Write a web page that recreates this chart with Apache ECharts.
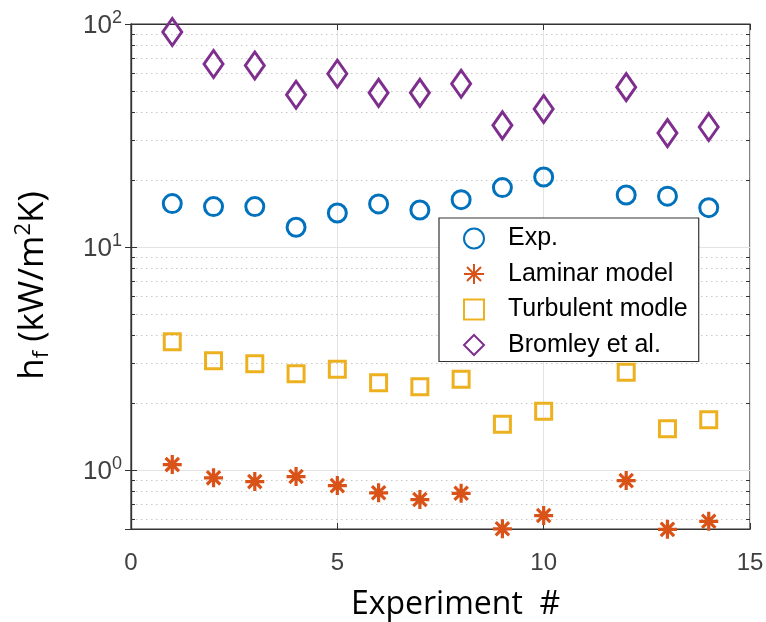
<!DOCTYPE html>
<html>
<head>
<meta charset="utf-8">
<script src="https://cdn.jsdelivr.net/npm/echarts@6/dist/echarts.min.js"></script>
<style>
html,body{margin:0;padding:0;background:#fff;}
#chart{width:766px;height:622px;}
</style>
</head>
<body>
<div id="chart"></div>
<script>
// ---- data ----
const experiments   = [1, 2, 3, 4, 5, 6, 7, 8, 9, 10, 12, 13, 14];
const expVals       = [15.65, 15.17, 15.17, 12.25, 14.2, 15.6, 14.65, 16.3, 18.46, 20.6, 17.1, 16.9, 15.0];
const laminarVals   = [1.056, 0.921, 0.886, 0.933, 0.850, 0.789, 0.736, 0.785, 0.544, 0.624, 0.895, 0.541, 0.588];
const turbulentVals = [3.76, 3.09, 2.99, 2.70, 2.83, 2.46, 2.36, 2.55, 1.60, 1.83, 2.74, 1.53, 1.68];
const bromleyVals   = [92.1, 66.2, 65.2, 48.2, 59.8, 49.1, 49.1, 54.0, 35.1, 41.6, 52.1, 32.4, 34.5];
const seriesNames   = ['Exp.', 'Laminar model', 'Turbulent modle', 'Bromley et al.'];
const xTickValues   = [0, 5, 10, 15];
const yMin = 0.543, yMax = 100;
const minorYValues  = [0.6, 0.7, 0.8, 0.9, 2, 3, 4, 5, 6, 7, 8, 9, 20, 30, 40, 50, 60, 70, 80, 90];

const pairs = vals => experiments.map((x, i) => [x, vals[i]]);

const xMin = xTickValues[0], xMax = xTickValues[xTickValues.length - 1];
const tickLen = (xMax - xMin) * 4 / 619;

const minorLines = [];
minorYValues.forEach(v => {
  minorLines.push([{coord: [xMin, v], lineStyle: {color: '#c8c8c8', type: [1.5, 3.5], width: 1}},
                   {coord: [xMax, v]}]);
  minorLines.push([{coord: [xMin, v], lineStyle: {color: '#333', type: 'solid', width: 1}},
                   {coord: [xMin + tickLen, v]}]);
  minorLines.push([{coord: [xMax - tickLen, v], lineStyle: {color: '#333', type: 'solid', width: 1}},
                   {coord: [xMax, v]}]);
});

const logLabel = v => {
  const e = Math.round(Math.log10(v));
  if (Math.abs(Math.log10(v) - e) > 1e-6) return '';
  return '{b|10}{s|' + e + '}';
};

const chart = echarts.init(document.getElementById('chart'), null, {renderer: 'canvas'});
const asterisk = 'path://M10,0L10,20M0,10L20,10M3,3L17,17M3,17L17,3';
const clear = 'rgba(0,0,0,0)';

chart.setOption({
  animation: false,
  backgroundColor: '#fff',
  grid: {left: 131, right: 16, top: 24, bottom: 93, show: true, containLabel: false,
         outerBoundsMode: 'none',
         borderColor: '#333', borderWidth: 1.2, backgroundColor: 'transparent'},
  legend: {
    data: seriesNames,
    orient: 'vertical',
    left: 439, top: 218,
    backgroundColor: '#fff',
    borderColor: '#333', borderWidth: 1.2, borderRadius: 0,
    padding: [8, 11, 4, 24],
    itemWidth: 20, itemHeight: 20,
    itemGap: 10.5,
    textStyle: {fontFamily: 'Liberation Sans', fontSize: 25, color: '#000', padding: [0, 0, 0, 19]}
  },
  xAxis: [{
    type: 'value', min: xMin, max: xMax, interval: 5,
    name: 'Experiment  #', nameLocation: 'middle', nameGap: 60,
    nameTextStyle: {fontFamily: 'Open Sans', fontSize: 32, color: '#000', padding: [0, 0, 0, 30]},
    axisLine: {show: true, lineStyle: {color: '#333', width: 1.2}},
    axisTick: {show: true, inside: true, length: 6, lineStyle: {color: '#333'}},
    axisLabel: {fontFamily: 'Liberation Sans', fontSize: 24, color: '#404040', margin: 22,
                formatter: v => xTickValues.includes(v) ? String(v) : ''},
    splitLine: {show: true, lineStyle: {color: '#e3e3e3', width: 1}}
  }, {
    type: 'value', position: 'top', min: xMin, max: xMax, interval: 5,
    axisLine: {show: true, lineStyle: {color: '#333', width: 1.2}},
    axisTick: {show: true, inside: true, length: 6, lineStyle: {color: '#333'}},
    axisLabel: {show: false}, splitLine: {show: false}
  }],
  yAxis: [{
    type: 'log', logBase: 10, min: yMin, max: yMax,
    name: '{a|h}{sub|f}{a| (kW/m}{sup|2}{a|K)}', nameLocation: 'middle', nameGap: 78, nameRotate: 90,
    nameTextStyle: {
      padding: [0, 18, 0, 0],
      rich: {
        a: {fontFamily: 'Open Sans', fontSize: 35, color: '#000', lineHeight: 40},
        sub: {fontFamily: 'Open Sans', fontSize: 22, color: '#000', verticalAlign: 'bottom', lineHeight: 40},
        sup: {fontFamily: 'Open Sans', fontSize: 22, color: '#000', verticalAlign: 'top', lineHeight: 40}
      }
    },
    axisLine: {show: true, lineStyle: {color: '#333', width: 1.2}},
    axisTick: {show: true, inside: true, length: 6, lineStyle: {color: '#333'}},
    axisLabel: {
      margin: 9,
      formatter: logLabel,
      rich: {
        b: {fontFamily: 'Liberation Sans', fontSize: 26, color: '#404040', lineHeight: 30, verticalAlign: 'bottom'},
        s: {fontFamily: 'Liberation Sans', fontSize: 18, color: '#404040', verticalAlign: 'top', lineHeight: 30}
      }
    },
    splitLine: {show: true, lineStyle: {color: '#e3e3e3', width: 1}}
  }, {
    type: 'log', logBase: 10, min: yMin, max: yMax, position: 'right',
    axisLine: {show: true, lineStyle: {color: '#333', width: 1.2}},
    axisTick: {show: true, inside: true, length: 6, lineStyle: {color: '#333'}},
    axisLabel: {show: false}, splitLine: {show: false}
  }],
  series: [
    {
      name: 'grid-minor', type: 'scatter', data: [], silent: true,
      markLine: {silent: true, symbol: ['none', 'none'], z: 1, animation: false,
                 label: {show: false}, data: minorLines}
    },
    {
      name: seriesNames[0], type: 'scatter', data: pairs(expVals), symbol: 'circle', symbolSize: 18,
      clip: false, z: 3,
      itemStyle: {color: clear, borderColor: '#0072BD', borderWidth: 3, opacity: 1}
    },
    {
      name: seriesNames[1], type: 'scatter', data: pairs(laminarVals), symbol: asterisk, symbolSize: 19,
      clip: false, z: 3,
      itemStyle: {color: clear, borderColor: '#D95319', borderWidth: 3.2, opacity: 1}
    },
    {
      name: seriesNames[2], type: 'scatter', data: pairs(turbulentVals), symbol: 'rect', symbolSize: 16,
      clip: false, z: 3,
      itemStyle: {color: clear, borderColor: '#EDB120', borderWidth: 3, opacity: 1}
    },
    {
      name: seriesNames[3], type: 'scatter', data: pairs(bromleyVals), symbol: 'diamond', symbolSize: [19, 27],
      clip: false, z: 3,
      itemStyle: {color: clear, borderColor: '#7E2F8E', borderWidth: 3, opacity: 1}
    }
  ]
});
</script>
</body>
</html>
